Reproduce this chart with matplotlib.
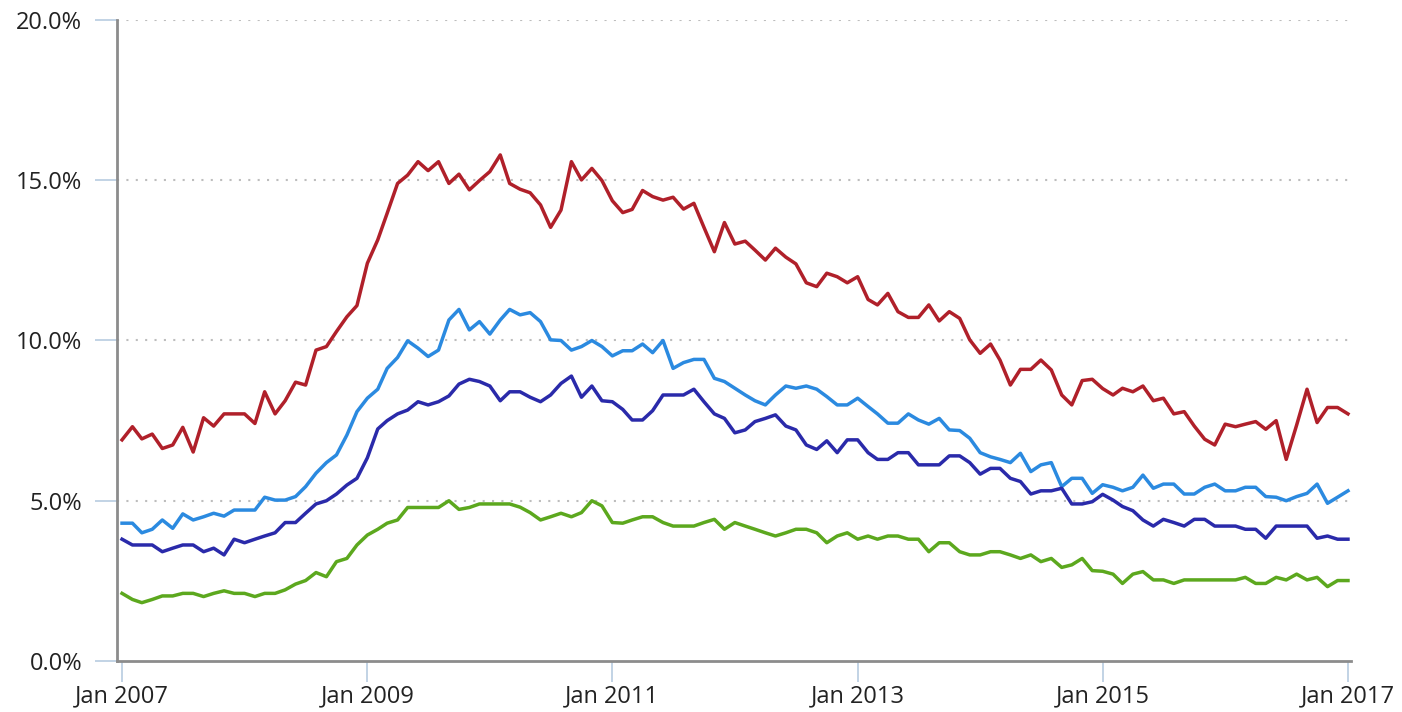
# Four monthly rate series, Jan 2007 - Jan 2017

import numpy as np
import pandas as pd
import matplotlib
matplotlib.use("Agg")
import matplotlib.pyplot as plt
import matplotlib.dates as mdates
from matplotlib.ticker import FuncFormatter

plt.rcParams['font.family'] = ['Open Sans', 'DejaVu Sans']

# monthly values, in percent
red = [6.90, 7.31, 6.93, 7.08, 6.63, 6.74, 7.29, 6.52, 7.59, 7.33,
       7.71, 7.71, 7.71, 7.41, 8.40, 7.71, 8.12, 8.70, 8.61, 9.70,
       9.81, 10.28, 10.74, 11.09, 12.41, 13.14, 13.97, 14.90, 15.16, 15.58,
       15.30, 15.58, 14.90, 15.19, 14.70, 14.99, 15.27, 15.79, 14.90, 14.72,
       14.61, 14.23, 13.53, 14.07, 15.58, 15.01, 15.37, 14.99, 14.36, 13.99,
       14.09, 14.68, 14.49, 14.38, 14.47, 14.10, 14.28, 13.53, 12.77, 13.68,
       13.01, 13.10, 12.82, 12.51, 12.88, 12.60, 12.39, 11.80, 11.68, 12.10,
       11.99, 11.80, 11.99, 11.28, 11.11, 11.47, 10.90, 10.72, 10.72, 11.11,
       10.61, 10.90, 10.69, 10.02, 9.60, 9.89, 9.39, 8.61, 9.10, 9.10,
       9.39, 9.08, 8.30, 7.99, 8.75, 8.79, 8.50, 8.30, 8.51, 8.40,
       8.58, 8.12, 8.20, 7.71, 7.78, 7.33, 6.92, 6.74, 7.39, 7.31,
       7.39, 7.47, 7.23, 7.50, 6.29, 7.36, 8.48, 7.44, 7.91, 7.91,
       7.71]

light_blue = [4.30, 4.30, 4.00, 4.11, 4.40, 4.14, 4.59, 4.40, 4.50, 4.61,
              4.52, 4.71, 4.71, 4.71, 5.11, 5.02, 5.02, 5.13, 5.44, 5.86,
              6.19, 6.43, 7.05, 7.78, 8.20, 8.48, 9.13, 9.47, 9.99, 9.76,
              9.50, 9.70, 10.64, 10.97, 10.33, 10.59, 10.20, 10.64, 10.97, 10.80,
              10.87, 10.59, 10.02, 10.00, 9.70, 9.81, 10.00, 9.81, 9.52, 9.68,
              9.68, 9.89, 9.62, 10.00, 9.13, 9.31, 9.41, 9.41, 8.82, 8.72,
              8.51, 8.30, 8.12, 7.99, 8.30, 8.58, 8.51, 8.58, 8.48, 8.25,
              7.99, 7.99, 8.20, 7.94, 7.71, 7.42, 7.42, 7.71, 7.52, 7.39,
              7.57, 7.21, 7.19, 6.95, 6.50, 6.37, 6.29, 6.19, 6.48, 5.91,
              6.12, 6.19, 5.44, 5.70, 5.70, 5.23, 5.50, 5.42, 5.31, 5.42,
              5.80, 5.39, 5.52, 5.52, 5.21, 5.21, 5.42, 5.52, 5.31, 5.31,
              5.42, 5.42, 5.13, 5.11, 5.00, 5.13, 5.23, 5.52, 4.92, 5.11,
              5.31]

navy = [3.80, 3.62, 3.62, 3.62, 3.41, 3.52, 3.62, 3.62, 3.41, 3.52,
        3.31, 3.80, 3.69, 3.80, 3.90, 4.00, 4.32, 4.32, 4.61, 4.90,
        5.00, 5.21, 5.49, 5.70, 6.34, 7.24, 7.50, 7.71, 7.83, 8.09,
        7.99, 8.09, 8.27, 8.64, 8.79, 8.72, 8.58, 8.12, 8.40, 8.40,
        8.23, 8.09, 8.30, 8.66, 8.89, 8.23, 8.58, 8.12, 8.09, 7.85,
        7.52, 7.52, 7.81, 8.30, 8.30, 8.30, 8.48, 8.09, 7.71, 7.57,
        7.12, 7.21, 7.47, 7.57, 7.68, 7.33, 7.21, 6.74, 6.60, 6.87,
        6.50, 6.90, 6.90, 6.50, 6.29, 6.29, 6.50, 6.50, 6.12, 6.12,
        6.12, 6.40, 6.40, 6.19, 5.83, 6.01, 6.01, 5.70, 5.60, 5.21,
        5.31, 5.31, 5.39, 4.90, 4.90, 4.97, 5.20, 5.02, 4.82, 4.69,
        4.40, 4.21, 4.42, 4.32, 4.21, 4.42, 4.42, 4.21, 4.21, 4.21,
        4.11, 4.11, 3.83, 4.21, 4.21, 4.21, 4.21, 3.83, 3.90, 3.80,
        3.80]

green = [2.11, 1.92, 1.82, 1.92, 2.03, 2.03, 2.11, 2.11, 2.01, 2.11,
         2.19, 2.11, 2.11, 2.01, 2.11, 2.11, 2.22, 2.40, 2.51, 2.76,
         2.63, 3.10, 3.20, 3.62, 3.93, 4.11, 4.30, 4.40, 4.79, 4.79,
         4.79, 4.79, 5.00, 4.73, 4.79, 4.90, 4.90, 4.90, 4.90, 4.80,
         4.63, 4.40, 4.50, 4.61, 4.50, 4.63, 5.00, 4.84, 4.32, 4.30,
         4.40, 4.50, 4.50, 4.32, 4.21, 4.21, 4.21, 4.32, 4.42, 4.11,
         4.32, 4.21, 4.11, 4.00, 3.90, 4.00, 4.11, 4.11, 4.00, 3.69,
         3.90, 4.00, 3.80, 3.90, 3.80, 3.90, 3.90, 3.80, 3.80, 3.41,
         3.69, 3.69, 3.41, 3.31, 3.31, 3.41, 3.41, 3.31, 3.20, 3.31,
         3.10, 3.20, 2.92, 3.00, 3.20, 2.82, 2.80, 2.71, 2.42, 2.71,
         2.79, 2.53, 2.53, 2.42, 2.53, 2.53, 2.53, 2.53, 2.53, 2.53,
         2.61, 2.42, 2.42, 2.61, 2.53, 2.71, 2.53, 2.61, 2.32, 2.51,
         2.51]

months = pd.date_range('2007-01-01', periods=len(red), freq='MS')
tick_years = [2007, 2009, 2011, 2013, 2015, 2017]

fig = plt.figure(figsize=(14.02, 7.12), dpi=100)
ax = fig.add_axes([117 / 1402, 51 / 712, (1351 - 117) / 1402, 641 / 712])

ax.plot(months, red, color='#B0202A', lw=2.5)
ax.plot(months, light_blue, color='#2B8AE0', lw=2.5)
ax.plot(months, navy, color='#2A2AAA', lw=2.5)
ax.plot(months, green, color='#5CA81E', lw=2.5)

ax.set_xlim(pd.Timestamp('2006-12-17'), pd.Timestamp('2017-01-10'))
ax.set_ylim(0, 20)

ax.set_yticks([0, 5, 10, 15, 20])
ax.yaxis.set_major_formatter(FuncFormatter(lambda v, p: f'{v:.1f}%'))
ax.set_xticks([pd.Timestamp(f'{y}-01-01') for y in tick_years])
ax.xaxis.set_major_formatter(mdates.DateFormatter('%b %Y'))

# dotted grid at 5% steps, none on the zero line
for v in [5, 10, 15, 20]:
    ax.axhline(v, color='#BDBDBD', lw=1.5, linestyle=(0, (1, 3.5)), zorder=0)

for s in ['top', 'right']:
    ax.spines[s].set_visible(False)
for s in ['left', 'bottom']:
    ax.spines[s].set_color('#8C8C8C')
    ax.spines[s].set_linewidth(2)

ax.tick_params(axis='y', length=16, width=1.2, color='#B8CCE0', pad=9,
               labelsize=17, labelcolor='#222222')
ax.tick_params(axis='x', length=15, width=1.2, color='#B8CCE0', pad=2,
               labelsize=17, labelcolor='#222222')

fig.savefig('out.png', dpi=100)
